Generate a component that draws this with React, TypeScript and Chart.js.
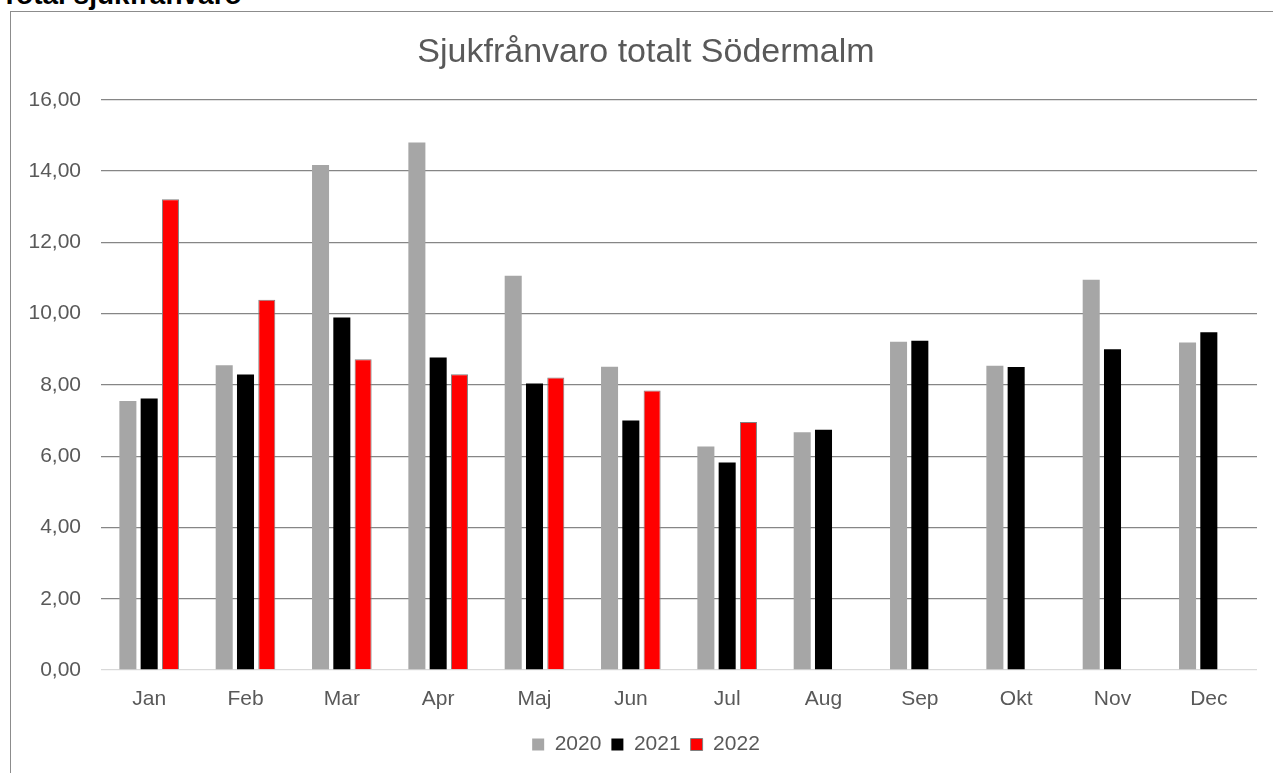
import { useEffect, useRef } from "react";
import { Chart, registerables } from "chart.js";

Chart.register(...registerables);

const MONTHS = ["Jan", "Feb", "Mar", "Apr", "Maj", "Jun", "Jul", "Aug", "Sep", "Okt", "Nov", "Dec"];
const SERIES_NAMES = ["2020", "2021", "2022"];
const VALUES_2020 = [7.55, 8.55, 14.17, 14.8, 11.06, 8.51, 6.27, 6.67, 9.21, 8.54, 10.95, 9.19];
const VALUES_2021 = [7.62, 8.29, 9.89, 8.77, 8.04, 7.0, 5.82, 6.74, 9.24, 8.5, 9.0, 9.48];
const VALUES_2022 = [13.21, 10.39, 8.72, 8.3, 8.21, 7.84, 6.96, null, null, null, null, null];
const Y_MIN = 0;
const Y_MAX = 16;
const Y_STEP = 2;

const FONT = '"Liberation Sans", Arial, sans-serif';
const TEXT = "#595959";

export default function App() {
  const ref = useRef<HTMLCanvasElement>(null);

  useEffect(() => {
    const chart = new Chart(ref.current!, {
      type: "bar",
      data: {
        labels: MONTHS,
        datasets: [
          {
            label: SERIES_NAMES[0],
            data: VALUES_2020,
            backgroundColor: "#a6a6a6",
            borderWidth: 0,
          },
          {
            label: SERIES_NAMES[1],
            data: VALUES_2021,
            backgroundColor: "#000000",
            borderWidth: 0,
          },
          {
            label: SERIES_NAMES[2],
            data: VALUES_2022 as any,
            backgroundColor: "#ff0000",
            borderColor: "#808080",
            borderWidth: 1,
          },
        ],
      },
      options: {
        responsive: true,
        maintainAspectRatio: false,
        animation: false,
        layout: { padding: { top: 0, left: 0, right: 0, bottom: 8 } },
        datasets: {
          bar: { categoryPercentage: 0.663, barPercentage: 0.8 },
        },
        plugins: {
          title: {
            display: true,
            text: "Sjukfrånvaro totalt Södermalm",
            color: TEXT,
            font: { family: FONT, size: 34, weight: "normal" },
            padding: { top: 20, bottom: 27 },
          },
          legend: {
            position: "bottom",
            labels: {
              color: TEXT,
              font: { family: FONT, size: 21 },
              boxWidth: 12,
              boxHeight: 12,
              padding: 10,
            },
          },
          tooltip: { enabled: false },
        },
        scales: {
          x: {
            grid: { display: false },
            border: { display: false },
            ticks: {
              color: TEXT,
              font: { family: FONT, size: 21 },
              padding: 9,
              maxRotation: 0,
            },
            afterFit: (s: any) => {
              s.height = 54;
            },
          },
          y: {
            min: Y_MIN,
            max: Y_MAX,
            ticks: {
              stepSize: Y_STEP,
              color: TEXT,
              font: { family: FONT, size: 21 },
              padding: 20,
              callback: (v: any) => Number(v).toFixed(2).replace(".", ","),
            },
            grid: {
              drawTicks: false,
              color: (c: any) => (c.tick && c.tick.value === 0 ? "#d9d9d9" : "#868686"),
              lineWidth: 1.3,
            },
            border: { display: false },
            afterFit: (s: any) => {
              s.width = 90;
            },
          },
          spacer: {
            type: "linear",
            position: "right",
            grid: { display: false },
            border: { display: false },
            ticks: { display: false },
            afterFit: (s: any) => {
              s.width = 24;
            },
          },
        },
      },
    });
    return () => chart.destroy();
  }, []);

  return (
    <div
      style={{
        position: "fixed",
        left: 0,
        top: 0,
        width: 1273,
        height: 773,
        overflow: "hidden",
        background: "#ffffff",
      }}
    >
      <div
        style={{
          position: "absolute",
          left: 1,
          top: -21,
          font: `bold 28px ${FONT}`,
          lineHeight: "normal",
          color: "#000000",
          whiteSpace: "nowrap",
        }}
      >
        Total sjukfrånvaro
      </div>
      <div
        style={{
          position: "absolute",
          left: 10,
          top: 11,
          width: 1300,
          height: 800,
          border: "1px solid #8c8c8c",
          boxSizing: "border-box",
        }}
      />
      <div style={{ position: "absolute", left: 11, top: 12, width: 1270, height: 761 }}>
        <canvas ref={ref} />
      </div>
    </div>
  );
}
